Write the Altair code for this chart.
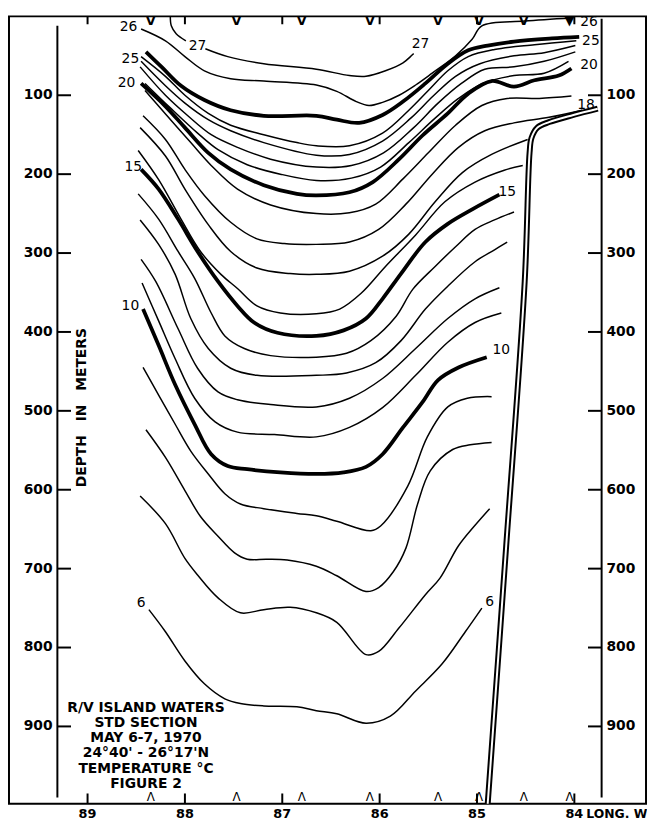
import altair as alt
import pandas as pd

# ---- isotherms: longitude (deg W) and depth (m) ----
T27A_LON = [88.15, 88.14, 88.09, 87.99]
T27A_DEP = [0, 12, 22, 31]
T27B_LON = [87.79, 87.56, 87.19, 86.65, 86.31, 86.14, 85.94, 85.76, 85.65]
T27B_DEP = [41, 51, 60, 67, 75, 76, 69, 59, 47]

T26_LON = [88.45, 88.20, 88.00, 87.80, 87.53, 87.19, 86.65, 86.44, 86.24, 86.11, 85.97, 85.80, 85.63, 85.46, 85.22, 85.05, 84.95, 84.51, 84.03]
T26_DEP = [16, 31, 51, 69, 79, 82, 87, 95, 108, 113, 109, 100, 87, 72, 50, 29, 12, 6, 2]

T25_LON = [88.40, 88.24, 88.04, 87.80, 87.53, 87.19, 86.65, 86.44, 86.21, 85.97, 85.76, 85.53, 85.30, 85.09, 84.89, 84.62, 84.23, 83.95]
T25_DEP = [45, 64, 88, 106, 119, 126, 126, 131, 135, 125, 108, 85, 60, 43, 37, 32, 28, 26]

T24_LON = [88.45, 88.20, 88.00, 87.76, 87.53, 87.19, 86.85, 86.65, 86.31, 85.97, 85.70, 85.50, 85.30, 85.09, 84.82, 84.41, 83.98]
T24_DEP = [51, 76, 100, 123, 138, 150, 160, 164, 164, 148, 119, 94, 69, 51, 42, 36, 31]

T23_LON = [88.45, 88.20, 88.00, 87.76, 87.53, 87.19, 86.65, 86.31, 85.97, 85.68, 85.45, 85.22, 84.97, 84.62, 84.31, 83.99]
T23_DEP = [57, 88, 110, 131, 145, 160, 176, 175, 158, 129, 101, 76, 60, 50, 46, 37]

T22_LON = [88.46, 88.20, 87.97, 87.73, 87.46, 87.12, 86.65, 86.29, 85.96, 85.65, 85.40, 85.16, 84.92, 84.62, 84.31, 83.99]
T22_DEP = [64, 100, 126, 150, 166, 181, 191, 189, 173, 141, 110, 85, 67, 64, 57, 45]

T21_LON = [88.41, 88.15, 87.87, 87.66, 87.36, 87.02, 86.65, 86.29, 85.99, 85.70, 85.43, 85.19, 84.94, 84.62, 84.31, 84.06]
T21_DEP = [85, 116, 148, 169, 188, 200, 208, 205, 191, 160, 129, 104, 85, 75, 72, 57]

T20_LON = [88.45, 88.20, 88.00, 87.76, 87.53, 87.19, 86.85, 86.65, 86.31, 86.07, 85.80, 85.56, 85.30, 85.09, 84.85, 84.62, 84.41, 84.16, 84.03]
T20_DEP = [85, 114, 141, 173, 194, 214, 225, 227, 223, 210, 181, 151, 123, 98, 82, 89, 81, 75, 66]

T19_LON = [88.41, 88.19, 87.94, 87.73, 87.46, 87.12, 86.65, 86.31, 86.04, 85.76, 85.50, 85.22, 84.95, 84.69, 84.36, 84.03]
T19_DEP = [94, 125, 160, 189, 219, 239, 250, 249, 238, 206, 173, 138, 113, 104, 104, 101]

T18_LON = [88.43, 88.20, 88.00, 87.80, 87.53, 87.26, 86.98, 86.65, 86.31, 86.01, 85.73, 85.46, 85.19, 84.92, 84.62, 84.26, 83.92]
T18_DEP = [126, 156, 194, 227, 261, 282, 288, 289, 286, 270, 238, 200, 166, 145, 135, 128, 119]

T17_LON = [88.46, 88.20, 88.00, 87.76, 87.53, 87.26, 86.92, 86.65, 86.31, 85.97, 85.70, 85.43, 85.15, 84.85, 84.48]
T17_DEP = [141, 177, 219, 264, 298, 319, 326, 327, 323, 304, 276, 235, 198, 175, 156]

T16_LON = [88.48, 88.27, 88.04, 87.84, 87.63, 87.46, 87.26, 87.02, 86.65, 86.41, 86.19, 85.94, 85.63, 85.33, 85.02, 84.72, 84.53]
T16_DEP = [170, 207, 257, 298, 327, 345, 367, 376, 377, 371, 351, 317, 277, 235, 210, 195, 189]

T15_LON = [88.45, 88.27, 88.07, 87.87, 87.66, 87.46, 87.29, 87.05, 86.65, 86.37, 86.14, 85.97, 85.78, 85.53, 85.30, 85.04, 84.77]
T15_DEP = [194, 219, 257, 298, 336, 367, 388, 401, 405, 398, 383, 358, 326, 286, 263, 244, 226]

T14_LON = [88.48, 88.27, 88.07, 87.90, 87.73, 87.59, 87.39, 87.12, 86.65, 86.34, 86.09, 85.83, 85.66, 85.43, 85.22, 85.02, 84.82, 84.62]
T14_DEP = [225, 257, 298, 332, 376, 405, 421, 430, 432, 427, 411, 380, 346, 317, 292, 270, 258, 248]

T13_LON = [88.46, 88.27, 88.10, 87.94, 87.76, 87.53, 87.26, 86.65, 86.34, 86.04, 85.78, 85.53, 85.30, 85.02, 84.82, 84.69]
T13_DEP = [258, 289, 327, 383, 421, 446, 455, 455, 452, 439, 411, 371, 342, 311, 296, 286]

T12_LON = [88.45, 88.30, 88.07, 87.87, 87.66, 87.46, 87.12, 86.65, 86.31, 85.97, 85.63, 85.30, 85.02, 84.77]
T12_DEP = [308, 336, 396, 446, 476, 486, 492, 495, 484, 459, 421, 383, 358, 344]

T11_LON = [88.44, 88.27, 88.10, 87.90, 87.69, 87.46, 87.08, 86.65, 86.31, 85.97, 85.63, 85.30, 85.02, 84.75]
T11_DEP = [338, 386, 434, 484, 514, 527, 530, 533, 521, 496, 455, 413, 388, 376]

T10_LON = [88.43, 88.27, 88.10, 87.90, 87.73, 87.56, 87.36, 87.02, 86.65, 86.37, 86.14, 85.97, 85.76, 85.56, 85.40, 85.19, 84.90]
T10_DEP = [371, 417, 467, 517, 555, 570, 574, 578, 580, 578, 571, 555, 521, 489, 461, 445, 432]

T9_LON = [88.43, 88.27, 88.10, 87.94, 87.76, 87.59, 87.43, 87.19, 86.85, 86.65, 86.44, 86.09, 85.99, 85.71, 85.51, 85.30, 85.10, 84.85]
T9_DEP = [445, 480, 517, 551, 580, 605, 618, 624, 630, 633, 640, 652, 646, 595, 533, 495, 484, 482]

T8_LON = [88.40, 88.20, 88.00, 87.84, 87.66, 87.49, 87.36, 87.16, 86.95, 86.65, 86.44, 86.14, 86.01, 85.86, 85.73, 85.61, 85.48, 85.25, 85.07, 84.85]
T8_DEP = [524, 559, 601, 634, 659, 680, 688, 688, 689, 697, 709, 729, 724, 704, 674, 618, 576, 549, 543, 540]

T7_LON = [88.46, 88.20, 88.00, 87.87, 87.66, 87.43, 87.19, 86.92, 86.65, 86.44, 86.14, 86.01, 85.80, 85.53, 85.38, 85.19, 85.02, 84.87]
T7_DEP = [608, 643, 687, 708, 737, 756, 752, 749, 756, 768, 809, 805, 775, 733, 712, 671, 645, 624]

T6_LON = [88.37, 88.20, 88.00, 87.80, 87.59, 87.43, 87.19, 86.85, 86.65, 86.44, 86.14, 85.89, 85.63, 85.36, 85.12, 84.95]
T6_DEP = [752, 780, 817, 846, 865, 871, 874, 875, 880, 884, 896, 887, 855, 821, 780, 750]

# ---- bottom profile (double line) ----
BOTTOM_LON = [84.89, 84.70, 84.51, 84.46, 84.44, 84.38, 84.26, 84.01, 83.76]
BOTTOM_DEP = [998, 671, 336, 173, 154, 141, 134, 125, 117]

# ---- stations, ticks and labels ----
STATION_LON = [88.35, 87.47, 86.80, 86.10, 85.40, 84.98, 84.52, 84.05]
STATION_TOP = ["V", "V", "V", "V", "V", "V", "V", "\u25BC"]
DEPTH_TICKS = [100, 200, 300, 400, 500, 600, 700, 800, 900]
LON_TICKS = [89, 88, 87, 86, 85, 84]

LABEL_TEXT = ["27", "27", "26", "26", "25", "25", "20", "20", "18", "15", "15", "10", "10", "6", "6"]
LABEL_LON = [87.87, 85.58, 88.58, 83.85, 88.56, 83.83, 88.60, 83.85, 83.88, 88.53, 84.69, 88.56, 84.75, 88.45, 84.87]
LABEL_DEP = [37, 35, 14, 7, 54, 31, 85, 62, 113, 191, 223, 367, 423, 743, 742]

TITLE_LINES = ["R/V ISLAND WATERS", "STD SECTION", "MAY 6-7, 1970",
               "24\u00b040' - 26\u00b017'N", "TEMPERATURE \u00b0C", "FIGURE 2"]

ISOTHERMS = [
    ("27a", 27, T27A_LON, T27A_DEP), ("27b", 27, T27B_LON, T27B_DEP),
    ("26", 26, T26_LON, T26_DEP), ("25", 25, T25_LON, T25_DEP),
    ("24", 24, T24_LON, T24_DEP), ("23", 23, T23_LON, T23_DEP),
    ("22", 22, T22_LON, T22_DEP), ("21", 21, T21_LON, T21_DEP),
    ("20", 20, T20_LON, T20_DEP), ("19", 19, T19_LON, T19_DEP),
    ("18", 18, T18_LON, T18_DEP), ("17", 17, T17_LON, T17_DEP),
    ("16", 16, T16_LON, T16_DEP), ("15", 15, T15_LON, T15_DEP),
    ("14", 14, T14_LON, T14_DEP), ("13", 13, T13_LON, T13_DEP),
    ("12", 12, T12_LON, T12_DEP), ("11", 11, T11_LON, T11_DEP),
    ("10", 10, T10_LON, T10_DEP), ("9", 9, T9_LON, T9_DEP),
    ("8", 8, T8_LON, T8_DEP), ("7", 7, T7_LON, T7_DEP),
    ("6", 6, T6_LON, T6_DEP),
]
BOLD = {25, 20, 15, 10}

rows = []
for name, temp, lons, deps in ISOTHERMS:
    for i, (lo, de) in enumerate(zip(lons, deps)):
        rows.append({"seg": name, "i": i, "lon": lo, "depth": de, "bold": temp in BOLD})
iso = pd.DataFrame(rows)
bottom = pd.DataFrame({"i": range(len(BOTTOM_LON)), "lon": BOTTOM_LON, "depth": BOTTOM_DEP})

XS = alt.Scale(domain=[83.264, 89.807], reverse=True, nice=False, zero=False)
YS = alt.Scale(domain=[0, 998], reverse=True, nice=False, zero=False)
FONT = "DejaVu Sans"


def xe(f="lon"):
    return alt.X(f"{f}:Q", scale=XS, axis=None)


def ye(f="depth"):
    return alt.Y(f"{f}:Q", scale=YS, axis=None)


thin = alt.Chart(iso[~iso.bold]).mark_line(
    interpolate="catmull-rom", color="black", strokeWidth=1.5
).encode(x=xe(), y=ye(), detail="seg:N", order="i:Q")

heavy = alt.Chart(iso[iso.bold]).mark_line(
    interpolate="catmull-rom", color="black", strokeWidth=3.8
).encode(x=xe(), y=ye(), detail="seg:N", order="i:Q")

bottom_outer = alt.Chart(bottom).mark_line(
    interpolate="catmull-rom", color="black", strokeWidth=6
).encode(x=xe(), y=ye(), order="i:Q")
bottom_inner = alt.Chart(bottom).mark_line(
    interpolate="catmull-rom", color="white", strokeWidth=2
).encode(x=xe(), y=ye(), order="i:Q")

# depth axes drawn inside the frame
axis_lines = pd.DataFrame({"lon": [89.31, 83.72], "d1": [12, 3], "d2": [990, 990]})
axes = alt.Chart(axis_lines).mark_rule(color="black", strokeWidth=2).encode(
    x=xe(), y=ye("d1"), y2="d2:Q")

tick_rows = []
for d in DEPTH_TICKS:
    tick_rows.append({"a": 89.31, "b": 89.17, "depth": d})
    tick_rows.append({"a": 83.86, "b": 83.72, "depth": d})
dticks = alt.Chart(pd.DataFrame(tick_rows)).mark_rule(color="black", strokeWidth=2).encode(
    x=xe("a"), x2="b:Q", y=ye())

dl_left = alt.Chart(pd.DataFrame({"depth": DEPTH_TICKS, "lon": 89.36, "t": [str(v) for v in DEPTH_TICKS]})).mark_text(
    align="right", baseline="middle", font=FONT, fontSize=14, fontWeight="bold", color="black"
).encode(x=xe(), y=ye(), text="t:N")
dl_right = alt.Chart(pd.DataFrame({"depth": DEPTH_TICKS, "lon": 83.67, "t": [str(v) for v in DEPTH_TICKS]})).mark_text(
    align="left", baseline="middle", font=FONT, fontSize=14, fontWeight="bold", color="black"
).encode(x=xe(), y=ye(), text="t:N")

lt = pd.DataFrame({"lon": LON_TICKS, "t0": 0, "t1": 10, "b0": 985, "b1": 998,
                   "lab": [str(v) for v in LON_TICKS]})
top_ticks = alt.Chart(lt).mark_rule(color="black", strokeWidth=2).encode(x=xe(), y=ye("t0"), y2="t1:Q")
bot_ticks = alt.Chart(lt).mark_rule(color="black", strokeWidth=2).encode(x=xe(), y=ye("b0"), y2="b1:Q")
lon_labels = alt.Chart(lt).mark_text(
    align="center", baseline="top", dy=4, font=FONT, fontSize=13, fontWeight="bold", color="black"
).encode(x=xe(), y=ye("b1"), text="lab:N")
long_w = alt.Chart(pd.DataFrame({"lon": [84], "depth": [998], "t": ["LONG. W"]})).mark_text(
    align="left", baseline="top", dx=12, dy=4, font=FONT, fontSize=12.5, fontWeight="bold", color="black"
).encode(x=xe(), y=ye(), text="t:N")

st = pd.DataFrame({"lon": STATION_LON, "top": STATION_TOP, "dt": 6, "db": 990})
st_top = alt.Chart(st).mark_text(
    baseline="middle", font=FONT, fontSize=13, fontWeight="bold", color="black"
).encode(x=xe(), y=ye("dt"), text="top:N")
st_bot = alt.Chart(st.assign(b="\u039B")).mark_text(
    baseline="middle", font=FONT, fontSize=12, color="black"
).encode(x=xe(), y=ye("db"), text="b:N")

labels = alt.Chart(pd.DataFrame({"lon": LABEL_LON, "depth": LABEL_DEP, "t": LABEL_TEXT})).mark_text(
    baseline="middle", font=FONT, fontSize=14, color="black"
).encode(x=xe(), y=ye(), text="t:N")

depth_title = alt.Chart(pd.DataFrame({"lon": [89.06], "depth": [496], "t": ["DEPTH\u2003IN\u2003METERS"]})).mark_text(
    angle=270, baseline="middle", font=FONT, fontSize=14, fontWeight="bold", color="black"
).encode(x=xe(), y=ye(), text="t:N")

title_df = pd.DataFrame({"lon": 88.40, "depth": [877 + 19.1 * k for k in range(len(TITLE_LINES))], "t": TITLE_LINES})
title_block = alt.Chart(title_df).mark_text(
    baseline="middle", font=FONT, fontSize=14, fontWeight="bold", color="black"
).encode(x=xe(), y=ye(), text="t:N")

chart = alt.layer(
    thin, heavy, bottom_outer, bottom_inner, axes, dticks, dl_left, dl_right,
    top_ticks, bot_ticks, lon_labels, long_w, st_top, st_bot, labels, depth_title, title_block
).properties(
    width=644, height=796,
    padding={"left": 1, "top": 4, "right": 1, "bottom": 14},
    autosize=alt.AutoSizeParams(type="none"),
    background="white",
).configure_view(stroke="black", strokeWidth=2)

chart.save("out.html", embed_options={"renderer": "svg", "actions": False})
